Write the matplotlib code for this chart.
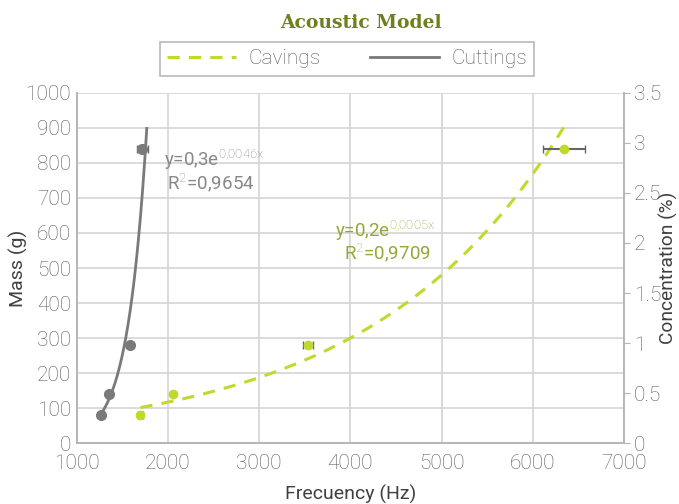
import numpy as np
import matplotlib
matplotlib.use("Agg")
import matplotlib.pyplot as plt
from matplotlib.lines import Line2D

# ---- data ----
cuttings_freq = [1264, 1354, 1583, 1720]
cuttings_mass = [80, 140, 280, 840]
cuttings_xerr = [0, 0, 0, 60]

cavings_freq = [1700, 2052, 3539, 6340]
cavings_conc = [0.28, 0.49, 0.98, 2.94]
cavings_xerr = [25, 0, 55, 230]

cuttings_trend_end = 1770
x_ticks = [1000, 2000, 3000, 4000, 5000, 6000, 7000]
mass_ticks = list(range(0, 1001, 100))
conc_ticks = [0, 0.5, 1, 1.5, 2, 2.5, 3, 3.5]

plt.rcParams['font.family'] = ['Roboto', 'DejaVu Sans']
plt.rcParams['mathtext.fontset'] = 'custom'
plt.rcParams['mathtext.rm'] = 'Roboto:light'
plt.rcParams['mathtext.it'] = 'Roboto:light'
TXT = '#595959'
GREEN = '#c3d82c'
GRAY = '#7a7a7a'

fig = plt.figure(figsize=(6.79, 5.04), dpi=100)
ax = fig.add_axes([0.1127, 0.121, 0.8063, 0.6945])
ax2 = ax.twinx()

ax.set_xlim(1000, 7000)
ax.set_ylim(0, 1000)
ax2.set_ylim(0, 3.5)
ax.set_xticks(x_ticks)
ax.set_yticks(mass_ticks)
ax2.set_yticks(conc_ticks)
ax2.set_yticklabels([f"{v:g}" for v in conc_ticks])

ax.grid(True, color='#d4d4d4', linewidth=1.2)
ax.set_axisbelow(True)
ax.spines['top'].set_visible(False)
ax2.spines['top'].set_visible(False)
for a in (ax, ax2):
    for s in ['left', 'bottom', 'right']:
        a.spines[s].set_color('#b5b5b5')
        a.spines[s].set_linewidth(1.2)
ax.tick_params(axis='both', length=0, labelsize=15, colors=TXT, pad=4)
ax.tick_params(axis='x', pad=8)
ax2.tick_params(axis='y', length=4, color='#b5b5b5', labelsize=15, colors=TXT, pad=3)
for a in (ax, ax2):
    for lab in a.get_xticklabels() + a.get_yticklabels():
        lab.set_fontweight('light')

ax.set_ylabel('Mass (g)', fontsize=14, color='#404040', ha='center', va='center')
ax.yaxis.set_label_coords(-0.107, 0.5)
ax.set_xlabel('Frecuency (Hz)', fontsize=14, color='#404040', ha='center', va='center')
ax.xaxis.set_label_coords(0.5, -0.146)
ax2.set_ylabel('Concentration (%)', fontsize=13.8, color='#404040', ha='center',
               va='center', rotation=90)
ax2.yaxis.set_label_coords(1.082, 0.5)

# Cuttings (mass, left axis)
cx = np.array(cuttings_freq, float)
cy = np.array(cuttings_mass, float)
b, a0 = np.polyfit(cx, np.log(cy), 1)
xt = np.linspace(cx.min(), cuttings_trend_end, 200)
ax.plot(xt, np.exp(a0 + b * xt), color=GRAY, lw=2, zorder=3)
ax.errorbar(cx, cy, xerr=cuttings_xerr, fmt='o', color=GRAY, ms=7,
            ecolor='#666666', elinewidth=1.5, capsize=3, zorder=4)

# Cavings (concentration, right axis)
vx = np.array(cavings_freq, float)
vy = np.array(cavings_conc, float)
b2, a2 = np.polyfit(vx, np.log(vy), 1)
xt2 = np.linspace(vx.min(), vx.max(), 200)
ax2.plot(xt2, np.exp(a2 + b2 * xt2), color=GREEN, lw=2.2, ls=(0, (4, 3)), zorder=3)
ax2.errorbar(vx, vy, xerr=cavings_xerr, fmt='o', color=GREEN, ms=6,
             ecolor='#666666', elinewidth=1.5, capsize=3, zorder=4)

# equations
ax.text(1960, 810, r'y=0,3e$^{0{,}0046x}$', fontsize=13.5, color='#888888',
        va='center')
ax.text(1995, 744, r'R$^{2}$=0,9654', fontsize=13.5, color='#888888',
        va='center')
ax.text(3835, 605, r'y=0,2e$^{0{,}0005x}$', fontsize=13.5, color='#94a83a',
        va='center')
ax.text(3935, 544, r'R$^{2}$=0,9709', fontsize=13.5, color='#94a83a',
        va='center')

# title
fig.text(0.531, 0.955, 'Acoustic Model', ha='center', va='center', fontsize=13.5,
         fontweight='bold', family='DejaVu Serif', color='#6e7f1c')

handles = [Line2D([], [], color=GREEN, lw=2.2, ls=(0, (4, 3))),
           Line2D([], [], color=GRAY, lw=2)]
leg = fig.legend(handles, ['Cavings', 'Cuttings'], loc='center',
                 bbox_to_anchor=(0.511, 0.883), ncol=2, frameon=True,
                 fancybox=False, edgecolor='#a8a8a8', fontsize=15,
                 handlelength=3.3, handletextpad=0.6, columnspacing=2.4,
                 borderpad=0.35, borderaxespad=0, labelcolor=TXT)
leg.get_frame().set_linewidth(1.2)
for t in leg.get_texts():
    t.set_fontweight('light')

fig.savefig('out.png', dpi=100)
